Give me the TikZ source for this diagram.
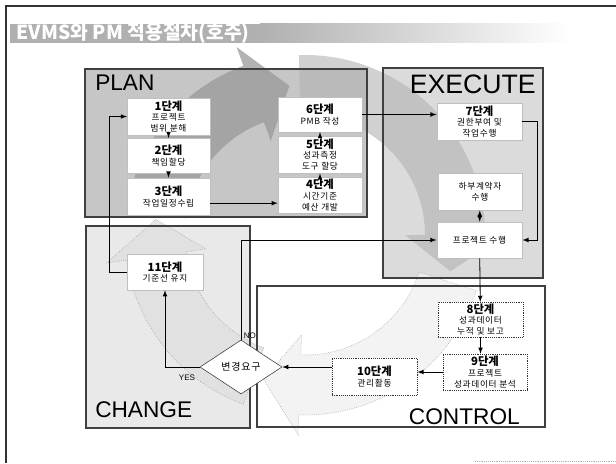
\documentclass[tikz,border=0pt]{standalone}
\usepackage{fontspec}
\setmainfont{Liberation Sans}
\newfontfamily\kr{Noto Sans CJK KR}
\newfontfamily\krs[LetterSpace=8]{Noto Sans CJK KR}
\usetikzlibrary{shapes.geometric,positioning}

\newcommand{\dan}[1]{{\kr\bfseries\fontsize{8.5}{10}\selectfont #1}}

\begin{document}
\begin{tikzpicture}[x=0.75pt,y=0.75pt,
    stepbox/.style={draw=gray!50, fill=white, line width=0.4pt, align=center, inner sep=1pt,
      font=\krs\fontsize{6.5}{8}\selectfont},
    ctrlbox/.style={stepbox, draw=black!80, densely dotted},
    region/.style={draw=black!75, line width=0.9pt},
    lab/.style={font=\fontsize{17}{17}\selectfont, inner sep=0pt},
    small/.style={font=\fontsize{6}{6}\selectfont, inner sep=1pt},
    conn/.style={line width=0.6pt, -latex}]
  \useasboundingbox (0,0) rectangle (616,-463);

  % page frame and title bar
  \draw[line width=1.2pt, black!80] (6,-463) -- (6,-6) -- (616,-6);
  \draw[gray!60, densely dotted] (475,-461) -- (616,-461);
  \fill[gray!62] (10,-24) rectangle (260,-43);
  \shade[left color=gray!62, right color=white] (260,-24) rectangle (570,-43);
  \node[anchor=west, text=white, font=\kr\bfseries\fontsize{14.5}{15}\selectfont] (title) at (12,-33.5) {EVMS와 PM 적용절차(호주)};

  % regions
  \fill[gray!45] (85,-69) rectangle (367,-217);
  \fill[gray!28] (383,-68) rectangle (543,-278);
  \fill[gray!17] (86,-226) rectangle (250,-428);
  \fill[white] (257,-286) rectangle (545,-427);

  % big cycle arrow
  \begin{scope}[shift={(305,-235)}]
    \fill[gray!80, opacity=.75] (172:180) arc (172:110:180) -- (110:200) -- (96:150) -- (110:100)
      -- (110:120) arc (110:172:120) -- cycle;
    \fill[gray!60, opacity=.6] (92:180) arc (92:0:180) -- (0:200) -- (-14:150) -- (0:100)
      -- (0:120) arc (0:92:120) -- cycle;
    \filldraw[gray!12, draw=gray, densely dotted, opacity=.8] (-18:180) arc (-18:-92:180) -- (-92:200)
      -- (-106:150) -- (-92:100) -- (-92:120) arc (-92:-18:120) -- cycle;
    \filldraw[gray!25, draw=gray, densely dotted, opacity=.8] (-110:180) arc (-110:-172:180) -- (-172:200)
      -- (-186:150) -- (-172:100) -- (-172:120) arc (-172:-110:120) -- cycle;
  \end{scope}

  \draw[region] (85,-69) rectangle (367,-217);
  \draw[region] (383,-68) rectangle (543,-278);
  \draw[region] (86,-226) rectangle (250,-428);
  \draw[region] (257,-286) rectangle (545,-427);

  \node[lab, anchor=north west] (plan) at (95,-75) {PLAN};
  \node[lab, anchor=north east, font=\fontsize{20}{20}\selectfont] (exe) at (536,-75) {EXECUTE};
  \node[lab, anchor=south west] (chgl) at (95,-418) {CHANGE};
  \node[lab, anchor=south east] (ctl) at (520,-425) {CONTROL};

  % steps
  \node[stepbox, minimum width=62pt, minimum height=28pt] (s1) at (168.5,-116.5) {\dan{1단계}\\프로젝트\\범위 분해};
  \node[stepbox, minimum width=62pt, minimum height=26pt] (s2) at (168.5,-155.5) {\dan{2단계}\\책임할당};
  \node[stepbox, minimum width=62pt, minimum height=28pt] (s3) at (168.5,-196.5) {\dan{3단계}\\작업일정수립};
  \node[stepbox, minimum width=63pt, minimum height=26pt] (s6) at (320,-114.5) {\dan{6단계}\\PMB 작성};
  \node[stepbox, minimum width=63pt, minimum height=28pt] (s5) at (320,-154.5) {\dan{5단계}\\성과측정\\도구 할당};
  \node[stepbox, minimum width=63pt, minimum height=27pt] (s4) at (320,-195) {\dan{4단계}\\시간기준\\예산 개발};
  \node[stepbox, minimum width=64pt, minimum height=28pt] (s7) at (479.5,-121.5) {\dan{7단계}\\권한부여 및\\작업수행};
  \node[stepbox, minimum width=63pt, minimum height=28pt] (sub) at (480,-191.5) {하부계약자\\수행};
  \node[stepbox, minimum width=64pt, minimum height=27pt] (run) at (479.5,-240) {프로젝트 수행};
  \node[ctrlbox, minimum width=64pt, minimum height=26pt] (s8) at (480.5,-319.5) {\dan{8단계}\\성과데이터\\누적 및 보고};
  \node[ctrlbox, minimum width=63pt, minimum height=27pt] (s9) at (485,-372) {\dan{9단계}\\프로젝트\\성과데이터 분석};
  \node[ctrlbox, minimum width=64pt, minimum height=28pt] (s10) at (374.5,-376.5) {\dan{10단계}\\관리활동};
  \node[stepbox, minimum width=57pt, minimum height=27pt] (s11) at (165,-272) {\dan{11단계}\\기준선 유지};
  \node[diamond, draw=black!80, fill=white, aspect=1.5, minimum width=61.5pt, minimum height=40.5pt,
    inner sep=0pt, font=\krs\fontsize{7.5}{9}\selectfont] (chg) at (241,-367) {변경요구};

  % connectors
  \draw[conn] (s1) -- (s2);
  \draw[conn] (s2) -- (s3);
  \draw[conn] ([yshift=-5pt]s3.east) -- ([yshift=-5pt]s3.east -| s4.west);
  \draw[conn] (s4) -- (s5);
  \draw[conn] (s5) -- (s6);
  \draw[conn] (s6.east) -- (s6.east -| s7.west);
  \draw[conn] (s7.east) -- ++(15,0) |- (run.east);
  \draw[line width=0.6pt, latex-latex] (sub) -- (run);
  \draw[conn] (run) -- (s8);
  \draw[conn] (s8.south) -- (s8.south |- s9.north);
  \draw[conn] (s9.west) -- (s9.west -| s10.east);
  \draw[conn] (s10.west |- chg.east) -- (chg.east);
  \draw[conn] (chg.north) |- (run.west);
  \draw[conn] (chg.west) -| (s11.south);
  \draw[conn] (s11.west) -- ++(-17,0) |- (s1.west);
  \node[small, anchor=south west] (no) at ([xshift=1pt]chg.north) {NO};
  \node[small] (yes) at (187,-378) {YES};
\end{tikzpicture}
\end{document}
